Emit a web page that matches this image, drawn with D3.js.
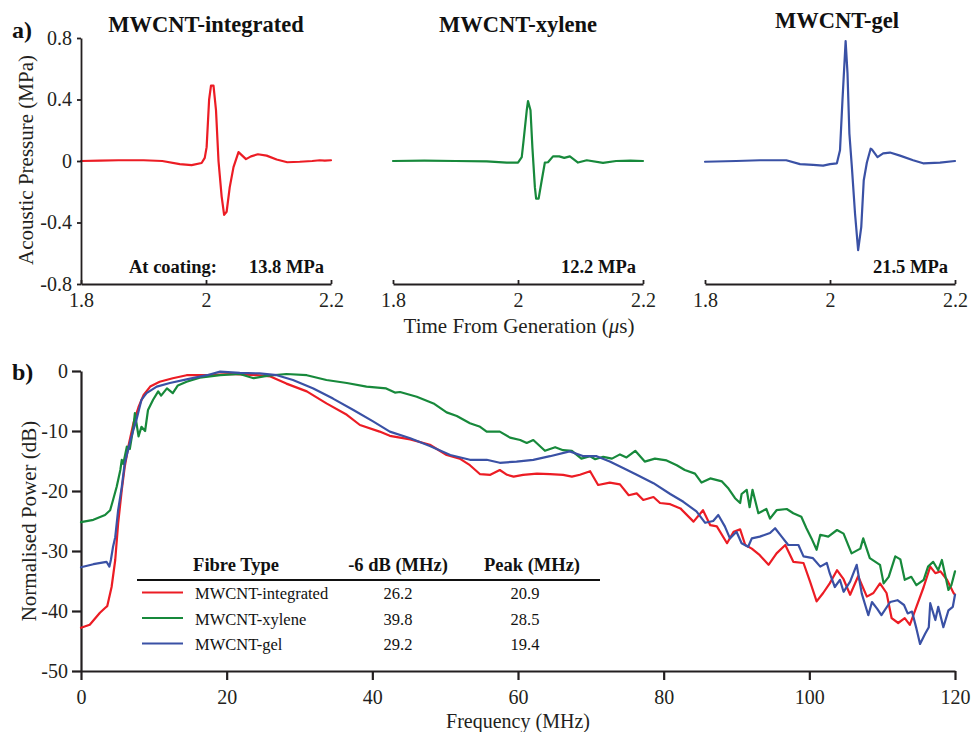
<!DOCTYPE html>
<html>
<head>
<meta charset="utf-8">
<script src="https://cdn.jsdelivr.net/npm/d3@7"></script>
<style>
  body { margin: 0; background: #fff; }
  svg { display: block; font-family: "Liberation Serif", "Times New Roman", serif; }
</style>
</head>
<body>
<svg id="chart" width="971" height="732"></svg>
<script>
// ---------------- DATA ----------------
const seriesNames = ["MWCNT-integrated", "MWCNT-xylene", "MWCNT-gel"];
const seriesColors = ["#ec1c24", "#17893b", "#3a51a5"];
const peakPressures = ["13.8 MPa", "12.2 MPa", "21.5 MPa"];
const bandwidth6dB = ["26.2", "39.8", "29.2"];
const peakFreq = ["20.9", "28.5", "19.4"];

const timeTicks = [1.8, 2, 2.2];
const timeTickLabels = ["1.8", "2", "2.2"];
const pressureTicks = [-0.8, -0.4, 0, 0.4, 0.8];
const pressureTickLabels = ["-0.8", "-0.4", "0", "0.4", "0.8"];
const freqTicks = [0, 20, 40, 60, 80, 100, 120];
const freqTickLabels = ["0", "20", "40", "60", "80", "100", "120"];
const powerTicks = [-50, -40, -30, -20, -10, 0];
const powerTickLabels = ["-50", "-40", "-30", "-20", "-10", "0"];

// waveforms: [time (us), pressure (MPa)]
const waveIntegrated = [[1.8,0],[1.83,0.003],[1.86,0.005],[1.9,0.005],[1.93,0],[1.958,-0.02],[1.977,-0.027],[1.993,-0.013],[1.998,0.02],[2.001,0.09],[2.005,0.4],[2.008,0.49],[2.012,0.49],[2.016,0.33],[2.02,0],[2.025,-0.23],[2.029,-0.35],[2.033,-0.33],[2.038,-0.17],[2.044,-0.04],[2.052,0.058],[2.058,0.035],[2.064,0.012],[2.072,0.03],[2.083,0.044],[2.097,0.035],[2.113,0.01],[2.13,-0.008],[2.15,-0.005],[2.17,0],[2.182,0.005],[2.19,0.003],[2.2,0.005]];
const waveXylene = [[1.8,0],[1.85,0.002],[1.9,0],[1.95,-0.002],[1.982,-0.01],[2.0,-0.01],[2.006,0.025],[2.009,0.135],[2.014,0.33],[2.016,0.39],[2.02,0.33],[2.023,0.09],[2.027,-0.17],[2.029,-0.245],[2.033,-0.245],[2.038,-0.125],[2.043,-0.01],[2.048,-0.008],[2.056,0.03],[2.066,0.03],[2.074,0.02],[2.083,0.03],[2.096,-0.01],[2.11,0.005],[2.136,-0.012],[2.157,0],[2.18,0.002],[2.2,0]];
const waveGel = [[1.8,-0.005],[1.85,0],[1.888,0.005],[1.93,0.005],[1.952,-0.02],[1.973,-0.025],[1.989,-0.03],[2.0,-0.02],[2.011,-0.015],[2.016,0.07],[2.02,0.4],[2.025,0.78],[2.028,0.57],[2.031,0.18],[2.035,-0.04],[2.04,-0.34],[2.045,-0.58],[2.05,-0.43],[2.054,-0.125],[2.059,-0.01],[2.065,0.08],[2.067,0.075],[2.076,0.025],[2.085,0.05],[2.096,0.055],[2.112,0.035],[2.133,0.005],[2.149,-0.015],[2.176,-0.01],[2.2,0]];

// spectra: [frequency (MHz), normalised power (dB)]
const specIntegrated = [[0,-42.8],[1.2,-42.3],[2.6,-40.3],[3.3,-39.5],[3.6,-39.2],[4.2,-36],[4.7,-31.5],[5.1,-25.4],[5.6,-19.8],[6.0,-16],[6.5,-12.6],[7.2,-8.7],[7.9,-6],[8.6,-4],[9.5,-2.6],[10.8,-1.8],[12.6,-1.2],[14.5,-0.7],[17.3,-0.7],[20.5,-0.5],[24.1,-0.7],[26,-0.9],[28.2,-2.1],[31,-3.4],[33.7,-5.4],[36.5,-7.3],[38.3,-9],[41,-10.1],[42.4,-10.8],[45.2,-11.4],[47.9,-12.3],[50.2,-14],[52,-14.6],[53.4,-15.7],[54.8,-17.2],[56.2,-17.3],[57.5,-16.5],[58.5,-17.3],[59.4,-17.6],[60.7,-17.3],[62.6,-17.1],[64.4,-17.2],[66.2,-17.3],[67.4,-17.6],[68.5,-17.3],[69.9,-16.7],[71,-19],[72.6,-18.6],[74,-18.9],[75.2,-20.7],[76.3,-20.4],[77.2,-21.5],[78.6,-21],[79.5,-22],[80.9,-22.2],[82.3,-22.9],[84.1,-25.1],[85.4,-23.2],[86.4,-25.7],[87.3,-25.9],[88.7,-28.7],[89.6,-26.8],[90.5,-26.4],[91.2,-29],[92.1,-29.6],[93.2,-30.7],[94.4,-32.3],[95.5,-30.4],[96.7,-29],[97.8,-31.8],[99.2,-32],[100.1,-35.1],[101,-38.4],[101.9,-37],[102.8,-35.4],[103.8,-33.2],[104.7,-34.7],[105.6,-37.3],[106.7,-34.2],[107.9,-37.6],[108.8,-37],[109.7,-35.4],[110.6,-37],[111.3,-41.2],[112.2,-42],[113.1,-41.2],[113.8,-42.3],[114.7,-39.3],[115.7,-36],[116.6,-32.6],[117.3,-33.7],[118,-33.4],[118.9,-34.8],[119.8,-37],[120,-37.3]];
const specXylene = [[0,-25.2],[1.7,-24.8],[3.3,-24],[4,-23.2],[4.4,-21.5],[4.9,-19.3],[5.4,-16.5],[5.6,-14.8],[5.8,-15.5],[6.3,-12.6],[6.7,-13],[7.2,-9.3],[7.4,-7],[7.9,-10.9],[8.3,-9.3],[8.8,-10],[9.2,-6.5],[9.9,-4.8],[10.6,-3.4],[11,-4.1],[11.8,-2.9],[12.6,-3.7],[13.3,-2.4],[14.5,-1.8],[16.3,-1.1],[19.1,-0.7],[21.8,-0.5],[23.7,-1.2],[25.5,-0.8],[28.2,-0.5],[31,-0.7],[33.7,-1.5],[36.5,-2],[39.2,-2.6],[41.9,-2.9],[43.1,-3.6],[43.8,-3.5],[46.1,-4.3],[48.4,-5.4],[50.2,-6.9],[51.6,-7.5],[53.4,-8.7],[54.8,-9.3],[55.7,-10.1],[57.5,-10.1],[58.9,-11.1],[60.3,-11.5],[61.2,-12],[62.1,-11.5],[63.7,-13.3],[65.1,-12.7],[66.2,-13.2],[67.4,-13.3],[68.7,-14.6],[69.9,-14.2],[70.6,-14.7],[71.7,-14.3],[72.9,-14.6],[74,-13.9],[74.9,-14.4],[76.1,-13.3],[77.4,-15.1],[78.8,-14.6],[80.4,-14.9],[81.8,-15.7],[82.9,-16.5],[84.3,-17.1],[85.2,-18.6],[86.4,-17.9],[88,-18.4],[88.9,-19.6],[89.8,-21.2],[90.5,-22],[90.7,-20.5],[91.4,-19.8],[91.8,-22.7],[92.2,-19.8],[93,-23.7],[94.1,-23],[94.6,-24.6],[95.5,-23.2],[96.9,-23],[97.8,-23.7],[98.9,-24.3],[99.6,-26.2],[100.3,-27.9],[101,-29.8],[101.5,-27.3],[102.6,-27.6],[103.8,-26.5],[104.7,-27.1],[105.8,-30.4],[107,-29.6],[107.4,-27.9],[108.3,-31.2],[109.7,-32.3],[110.2,-35.4],[110.9,-34.3],[111.8,-30.9],[112.5,-31.4],[113.1,-34.8],[114,-34.3],[114.7,-35.7],[115.7,-34.8],[116.3,-32.6],[117,-31.8],[117.7,-33.2],[118.2,-31.5],[119.1,-36.5],[119.5,-35.7],[120,-33.4]];
const specGel = [[0,-32.7],[1.7,-32.2],[3.5,-31.8],[3.9,-32.6],[4.1,-31.5],[4.4,-29.3],[4.7,-27.7],[5.1,-23.2],[5.6,-19.3],[6,-15.4],[6.5,-13],[6.8,-11.5],[7.2,-9.8],[7.6,-8.2],[8.3,-4.8],[9,-3.7],[10.4,-2.6],[12.2,-2],[14.5,-1.4],[17.3,-0.7],[19.1,-0.1],[21.8,-0.3],[24.5,-0.4],[26.9,-0.7],[29.1,-1.5],[31.9,-2.9],[34.6,-4.6],[37.4,-6.5],[40.1,-8.4],[42.4,-10.1],[45.2,-11.2],[47.9,-12.5],[50.7,-14],[53.4,-14.8],[55.7,-14.8],[57.5,-15.3],[59.8,-15.1],[62.1,-14.8],[64.4,-14.2],[67.1,-13.4],[69,-14.2],[70.8,-14.2],[72.6,-15.1],[74.5,-16.2],[76.3,-17.3],[78.6,-18.7],[80.9,-20.5],[82.7,-21.8],[84.5,-23.4],[85.7,-25.3],[86.8,-25],[87.5,-24],[88.4,-25.9],[89.1,-27.9],[90,-26.8],[90.7,-28.7],[91.6,-29.3],[92.1,-27.9],[93.2,-27.6],[94.6,-27],[95.3,-26.2],[96.2,-27.6],[97.1,-29],[98.5,-29],[99.2,-30.9],[100.5,-31.2],[101.5,-32.6],[102.4,-32],[102.8,-33.7],[103.5,-36],[104.2,-34.8],[104.7,-36.8],[105.6,-35.1],[106.5,-32.3],[107.2,-37.1],[108.1,-40.7],[108.6,-38.5],[109.3,-39.6],[109.9,-40.7],[111.1,-38.5],[112.1,-38.2],[113,-39],[113.5,-40.4],[114.1,-40.1],[114.7,-42.9],[115.2,-45.5],[115.9,-43.8],[116.4,-42.7],[116.6,-38.7],[117.3,-41.5],[117.7,-39.3],[118.4,-42.7],[119.1,-39.9],[119.7,-39.3],[120,-37.3]];

const waves = [waveIntegrated, waveXylene, waveGel];
const spectra = [specIntegrated, specXylene, specGel];

// ---------------- DRAW ----------------
const svg = d3.select("#chart");
const AX = "#231f20";
const FONT_TICK = 20, FONT_LABEL = 21;

function styleAxis(g, w) {
  g.selectAll("path.domain").attr("stroke", AX).attr("stroke-width", w);
  g.selectAll(".tick line").attr("stroke", AX).attr("stroke-width", w);
  g.selectAll(".tick text").attr("fill", AX).attr("font-size", FONT_TICK)
    .attr("font-family", "Liberation Serif, serif");
}

// ---- Panel a ----
const yTop = d3.scaleLinear().domain([-0.8, 0.8]).range([284, 38]);
const panelX = [[81, 331], [393, 643], [705, 955]];
const titleX = [206, 518, 837];
const titleY = [32, 32, 28];

waves.forEach((w, i) => {
  const x = d3.scaleLinear().domain([1.8, 2.2]).range(panelX[i]);
  const gx = svg.append("g").attr("transform", "translate(0,284)")
    .call(d3.axisBottom(x).tickValues(timeTicks)
      .tickFormat((d, k) => timeTickLabels[k]).tickSizeInner(-4).tickSizeOuter(0).tickPadding(9));
  styleAxis(gx, 1.8);

  const line = d3.line().x(d => x(d[0])).y(d => yTop(d[1])).curve(d3.curveLinear);
  svg.append("path").datum(w).attr("d", line).attr("fill", "none")
    .attr("stroke", seriesColors[i]).attr("stroke-width", 2.2)
    .attr("stroke-linejoin", "round").attr("stroke-linecap", "round");

  svg.append("text").attr("x", titleX[i]).attr("y", titleY[i]).attr("text-anchor", "middle")
    .attr("font-weight", "bold").attr("font-size", 22.5).attr("fill", "#111").text(seriesNames[i]);

  svg.append("text").attr("x", panelX[i][1] - 7).attr("y", 273).attr("text-anchor", "end")
    .attr("font-weight", "bold").attr("font-size", 18.5).attr("fill", "#111").text(peakPressures[i]);
});

const gyTop = svg.append("g").attr("transform", "translate(81,0)")
  .call(d3.axisLeft(yTop).tickValues(pressureTicks)
    .tickFormat((d, k) => pressureTickLabels[k]).tickSizeInner(4).tickSizeOuter(0).tickPadding(5));
styleAxis(gyTop, 1.8);

svg.append("text").attr("x", 129).attr("y", 273).attr("font-weight", "bold")
  .attr("font-size", 18.5).attr("fill", "#111").text("At coating:");

svg.append("text").attr("transform", "translate(33,160) rotate(-90)").attr("text-anchor", "middle")
  .attr("font-size", FONT_LABEL).attr("fill", AX).text("Acoustic Pressure (MPa)");

svg.append("text").attr("x", 519).attr("y", 333).attr("text-anchor", "middle")
  .attr("font-size", FONT_LABEL).attr("fill", AX)
  .call(t => {
    t.append("tspan").text("Time From Generation (");
    t.append("tspan").attr("font-style", "italic").text("\u03bc");
    t.append("tspan").text("s)");
  });

svg.append("text").attr("x", 12).attr("y", 38).attr("font-weight", "bold")
  .attr("font-size", 24).attr("fill", "#111").text("a)");

// ---- Panel b ----
const xF = d3.scaleLinear().domain([0, 120]).range([81, 955]);
const yP = d3.scaleLinear().domain([-50, 0]).range([671, 371]);

const gxB = svg.append("g").attr("transform", "translate(0,671)")
  .call(d3.axisBottom(xF).tickValues(freqTicks)
    .tickFormat((d, k) => freqTickLabels[k]).tickSizeInner(9).tickSizeOuter(0).tickPadding(10));
styleAxis(gxB, 2.2);

const gyB = svg.append("g").attr("transform", "translate(81,0)")
  .call(d3.axisLeft(yP).tickValues(powerTicks)
    .tickFormat((d, k) => powerTickLabels[k]).tickSizeInner(9).tickSizeOuter(0).tickPadding(4));
styleAxis(gyB, 2.2);

const lineB = d3.line().x(d => xF(d[0])).y(d => yP(d[1]));
spectra.forEach((s, i) => {
  svg.append("path").datum(s).attr("d", lineB).attr("fill", "none")
    .attr("stroke", seriesColors[i]).attr("stroke-width", 2.2)
    .attr("stroke-linejoin", "round").attr("stroke-linecap", "round");
});

svg.append("text").attr("transform", "translate(36,521) rotate(-90)").attr("text-anchor", "middle")
  .attr("font-size", FONT_LABEL).attr("fill", AX).text("Normalised Power (dB)");

svg.append("text").attr("x", 518).attr("y", 727.5).attr("text-anchor", "middle")
  .attr("font-size", 20).attr("fill", AX).text("Frequency (MHz)");

svg.append("text").attr("x", 12).attr("y", 380).attr("font-weight", "bold")
  .attr("font-size", 24).attr("fill", "#111").text("b)");

// ---- Table legend ----
const tbl = svg.append("g");
const headers = [["Fibre Type", 236], ["-6 dB (MHz)", 398], ["Peak (MHz)", 532]];
headers.forEach(h => {
  tbl.append("text").attr("x", h[1]).attr("y", 571).attr("text-anchor", "middle")
    .attr("font-weight", "bold").attr("font-size", 18.5).attr("fill", "#111").text(h[0]);
});
tbl.append("line").attr("x1", 137).attr("x2", 600).attr("y1", 580).attr("y2", 580)
  .attr("stroke", "#111").attr("stroke-width", 2);
const rowY = d3.scalePoint().domain(seriesNames).range([599, 650]);
seriesNames.forEach((n, i) => {
  const yb = rowY(n);
  tbl.append("line").attr("x1", 142).attr("x2", 183).attr("y1", yb - 6.5).attr("y2", yb - 6.5)
    .attr("stroke", seriesColors[i]).attr("stroke-width", 2);
  tbl.append("text").attr("x", 195).attr("y", yb).attr("font-size", 16.5).attr("fill", "#111").text(n);
  tbl.append("text").attr("x", 398).attr("y", yb).attr("text-anchor", "middle")
    .attr("font-size", 16.5).attr("fill", "#111").text(bandwidth6dB[i]);
  tbl.append("text").attr("x", 525).attr("y", yb).attr("text-anchor", "middle")
    .attr("font-size", 16.5).attr("fill", "#111").text(peakFreq[i]);
});
</script>
</body>
</html>
